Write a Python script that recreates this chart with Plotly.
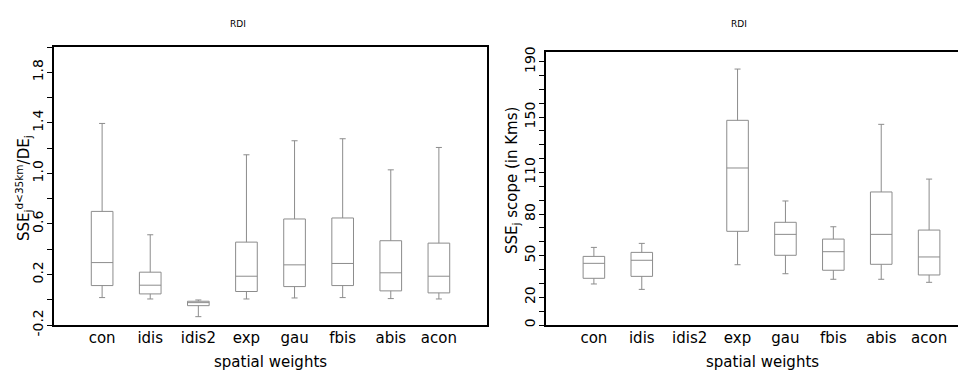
import plotly.graph_objects as go

categories = ["con", "idis", "idis2", "exp", "gau", "fbis", "abis", "acon"]
positions = [1, 2, 3, 4, 5, 6, 7, 8]

# Left panel: SSE_j^{d<35km} / DE_j
ratio_low = [0.017, 0.006, -0.134, 0.006, 0.014, 0.017, 0.009, 0.006]
ratio_q1 = [0.112, 0.046, -0.047, 0.065, 0.104, 0.112, 0.070, 0.054]
ratio_med = [0.294, 0.115, -0.023, 0.186, 0.276, 0.287, 0.213, 0.186]
ratio_q3 = [0.699, 0.218, -0.012, 0.456, 0.639, 0.647, 0.467, 0.448]
ratio_high = [1.395, 0.514, -0.002, 1.147, 1.258, 1.274, 1.028, 1.205]

# Right panel: SSE_j scope (in Kms); idis2 has no data
scope_low = [29.6, 25.7, None, 43.5, 37.0, 33.0, 33.0, 30.8]
scope_q1 = [33.7, 35.1, None, 67.6, 50.3, 39.5, 43.8, 36.1]
scope_med = [44.5, 46.7, None, 113.3, 65.4, 52.9, 65.4, 49.1]
scope_q3 = [49.5, 52.4, None, 147.7, 74.1, 62.0, 96.0, 68.5]
scope_high = [56.0, 58.9, None, 184.7, 89.5, 70.9, 144.8, 105.3]

left_labels = [-0.2, 0.2, 0.6, 1.0, 1.4, 1.8]
left_minor = [0.0, 0.4, 0.8, 1.2, 1.6, 2.0]
right_labels = [0, 20, 50, 80, 110, 150, 190]
right_minor = [v for v in range(0, 200, 10) if v not in right_labels]

BOX = "#8c8c8c"
FONT = "DejaVu Sans"
# the page body adds an 8px offset; the figure is a bit wider than the
# window so the right panel's frame edge falls outside the view, as in the reference
OFF = 8
W, H = 975, 376


def px(x):
    return (x - OFF) / W


def py(y):
    return 1 - (y - OFF) / H


fig = go.Figure()

fig.add_trace(go.Box(
    x=positions, q1=ratio_q1, median=ratio_med, q3=ratio_q3,
    lowerfence=ratio_low, upperfence=ratio_high,
    xaxis="x", yaxis="y", width=0.45, whiskerwidth=0.28,
    line=dict(color=BOX, width=1), fillcolor="rgba(0,0,0,0)",
    boxpoints=False, hoverinfo="skip", showlegend=False,
))

keep = [i for i, v in enumerate(scope_med) if v is not None]
fig.add_trace(go.Box(
    x=[positions[i] for i in keep],
    q1=[scope_q1[i] for i in keep], median=[scope_med[i] for i in keep],
    q3=[scope_q3[i] for i in keep],
    lowerfence=[scope_low[i] for i in keep], upperfence=[scope_high[i] for i in keep],
    xaxis="x2", yaxis="y2", width=0.45, whiskerwidth=0.28,
    line=dict(color=BOX, width=1), fillcolor="rgba(0,0,0,0)",
    boxpoints=False, hoverinfo="skip", showlegend=False,
))

tickfont = dict(family=FONT, size=14, color="black")
common_x = dict(tickvals=positions, ticktext=categories, ticks="", showgrid=False,
                zeroline=False, showline=True, linecolor="black", linewidth=2,
                mirror=True, tickfont=dict(family=FONT, size=15, color="black"),
                ticklabelstandoff=-2, automargin=False)
common_y = dict(tickangle=-90, ticks="outside", ticklen=5, tickcolor="black",
                tickwidth=1, showgrid=False, zeroline=False, showline=True,
                linecolor="black", linewidth=2, tickfont=tickfont,
                ticklabelstandoff=-2, automargin=False)

fig.update_layout(
    width=W, height=H,
    margin=dict(l=0, r=0, t=0, b=0),
    paper_bgcolor="white", plot_bgcolor="white",
    xaxis=dict(domain=[px(54), px(487)], range=[0, 9], anchor="y", **common_x),
    yaxis=dict(domain=[py(325), py(47)], range=[-0.2, 2.0], anchor="x",
               tickvals=left_labels, ticktext=[f"{v:.1f}" for v in left_labels],
               minor=dict(tickvals=left_minor, ticks="outside", ticklen=5,
                          tickcolor="black", tickwidth=1, showgrid=False),
               mirror=True, **common_y),
    xaxis2=dict(domain=[px(546), px(977)], range=[0, 9], anchor="y2", **common_x),
    yaxis2=dict(domain=[py(325), py(52)], range=[0, 197], anchor="x2",
                tickvals=right_labels, ticktext=[str(v) for v in right_labels],
                minor=dict(tickvals=right_minor, ticks="outside", ticklen=5,
                           tickcolor="black", tickwidth=1, showgrid=False),
                mirror=False, **common_y),
)


def note(text, x, y, size=15, angle=0):
    return dict(text=text, x=px(x), y=py(y), xref="paper", yref="paper",
                xanchor="center", yanchor="middle", showarrow=False,
                textangle=angle, font=dict(family=FONT, size=size, color="black"))


annotations = [
    note("RDI", 238, 24, size=9),
    note("RDI", 739, 24, size=9),
    note("spatial weights", 270, 362),
    note("spatial weights", 762, 362),
    note("SSE<sub>j</sub><sup>d&lt;35km</sup>/DE<sub>j</sub>", 23, 188, angle=-90),
    note("SSE<sub>j</sub> scope (in Kms)", 512, 181, angle=-90),
]
fig.update_layout(annotations=annotations)

fig.write_html("out.html")
